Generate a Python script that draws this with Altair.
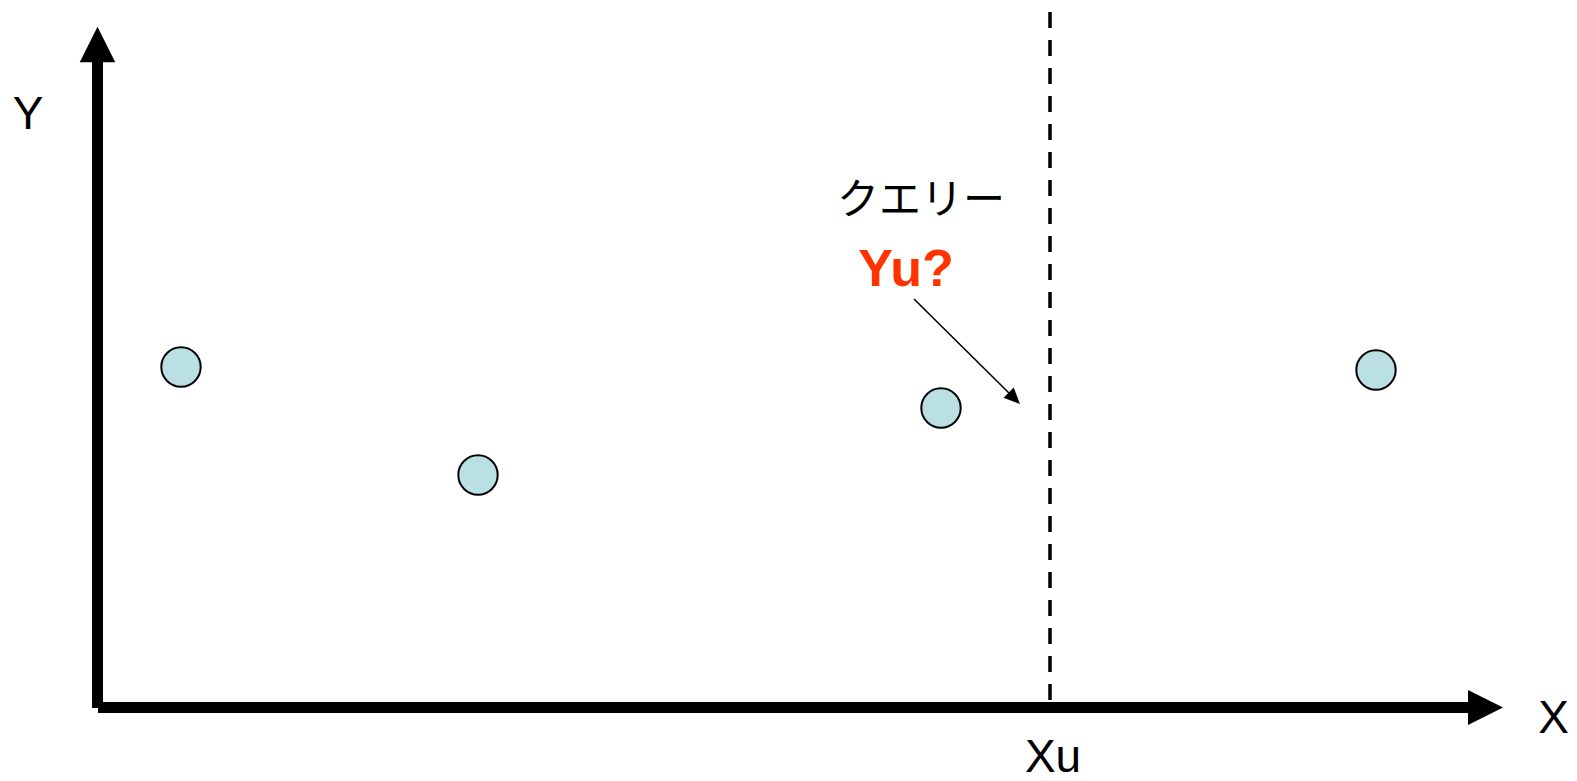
import altair as alt
import pandas as pd

# ---- data space: origin at the corner of the two axes ----
X_DOMAIN = [-89, 1472]
Y_DOMAIN = [-66, 699]
W, H = 1561, 765

# observed points
point_x = [84, 381, 844, 1279]
point_y = [340, 232, 299, 337]

# axes extents (data units)
y_axis_x = [0.5]
y_axis_from = [-1]
y_axis_to = [645]
x_axis_y = [-0.5]
x_axis_from = [1]
x_axis_to = [1373]
y_head = [[0.5, 662.5]]
x_head = [[1388.5, -0.5]]

# query position Xu
query_x = [953]
query_top = [695]
query_bottom = [6]

# annotation arrow
ann_start = [817, 408]
ann_end = [911.7, 314.3]
ann_head = [917.3, 308.7]

# labels
label_text = ["Y", "X", "Xu"]
label_x = [-69, 1456.5, 956]
label_y = [578, -26, -65]
query_label = ["クエリー"]
query_label_x = [824]
query_label_y = [493]
yu_label = ["Yu?"]
yu_x = [809]
yu_y = [421]

xs = alt.Scale(domain=X_DOMAIN, nice=False, zero=False)
ys = alt.Scale(domain=Y_DOMAIN, nice=False, zero=False)


def X(field="x"):
    return alt.X(f"{field}:Q", scale=xs, axis=None)


def Y(field="y"):
    return alt.Y(f"{field}:Q", scale=ys, axis=None)


y_axis = alt.Chart(pd.DataFrame({"x": y_axis_x, "y": y_axis_from, "y2": y_axis_to})).mark_rule(
    color="black", strokeWidth=11
).encode(x=X(), y=Y(), y2="y2:Q")

x_axis = alt.Chart(pd.DataFrame({"y": x_axis_y, "x": x_axis_from, "x2": x_axis_to})).mark_rule(
    color="black", strokeWidth=11
).encode(x=X(), x2="x2:Q", y=Y())

y_arrow = alt.Chart(pd.DataFrame({"x": [p[0] for p in y_head], "y": [p[1] for p in y_head]})).mark_point(
    shape="M0,-1L1,1L-1,1Z", size=1260, filled=True, color="black", opacity=1, strokeWidth=0
).encode(x=X(), y=Y())

x_arrow = alt.Chart(pd.DataFrame({"x": [p[0] for p in x_head], "y": [p[1] for p in x_head]})).mark_point(
    shape="M1,0L-1,-1L-1,1Z", size=1225, filled=True, color="black", opacity=1, strokeWidth=0
).encode(x=X(), y=Y())

query_line = alt.Chart(pd.DataFrame({"x": query_x, "y": query_top, "y2": query_bottom})).mark_rule(
    color="black", strokeWidth=3.5, strokeDash=[16, 12]
).encode(x=X(), y=Y(), y2="y2:Q")

points = alt.Chart(pd.DataFrame({"x": point_x, "y": point_y})).mark_circle(
    size=1550, color="#bbe0e3", stroke="black", strokeWidth=2, opacity=1
).encode(x=X(), y=Y())

ann_line = alt.Chart(pd.DataFrame({"x": [ann_start[0]], "y": [ann_start[1]],
                                   "x2": [ann_end[0]], "y2": [ann_end[1]]})).mark_rule(
    color="black", strokeWidth=1.6
).encode(x=X(), y=Y(), x2="x2:Q", y2="y2:Q")

ann_arrow = alt.Chart(pd.DataFrame({"x": [ann_head[0]], "y": [ann_head[1]]})).mark_point(
    shape="M1,0L-1,-0.9L-1,0.9Z", size=256, angle=45, filled=True, color="black", opacity=1, strokeWidth=0
).encode(x=X(), y=Y())

labels = alt.Chart(pd.DataFrame({"x": label_x, "y": label_y, "t": label_text})).mark_text(
    font="Liberation Sans", fontSize=46, color="black", align="center", baseline="alphabetic"
).encode(x=X(), y=Y(), text="t:N")

q_label = alt.Chart(pd.DataFrame({"x": query_label_x, "y": query_label_y, "t": query_label})).mark_text(
    font="Noto Sans CJK JP", fontSize=42, color="black", align="center", baseline="alphabetic"
).encode(x=X(), y=Y(), text="t:N")

yu = alt.Chart(pd.DataFrame({"x": yu_x, "y": yu_y, "t": yu_label})).mark_text(
    font="Liberation Sans", fontSize=52, fontWeight="bold", color="#ff3300", align="center", baseline="alphabetic"
).encode(x=X(), y=Y(), text="t:N")

chart = alt.layer(
    query_line, y_axis, x_axis, y_arrow, x_arrow, points, ann_line, ann_arrow, labels, q_label, yu
).properties(
    width=W, height=H, autosize=alt.AutoSizeParams(type="none"), padding=0
).configure_view(stroke=None)

chart.save("out.html", embed_options={"renderer": "svg", "actions": False})
